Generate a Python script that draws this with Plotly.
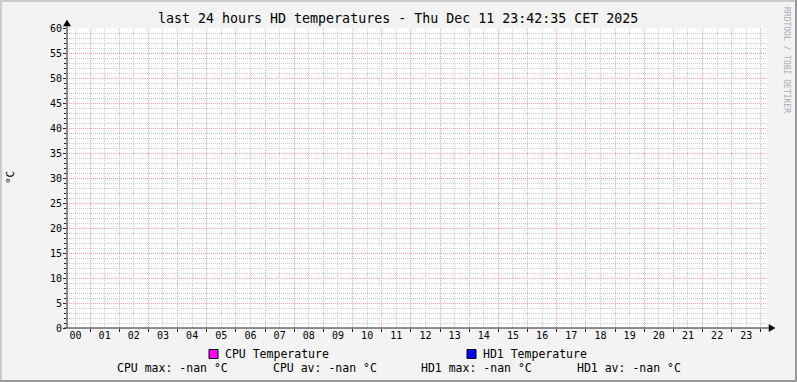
import plotly.graph_objects as go

# ---------------- data ----------------
hour_labels = ["00", "01", "02", "03", "04", "05", "06", "07", "08", "09", "10", "11",
               "12", "13", "14", "15", "16", "17", "18", "19", "20", "21", "22", "23"]
hours = [0, 1, 2, 3, 4, 5, 6, 7, 8, 9, 10, 11, 12, 13, 14, 15, 16, 17, 18, 19, 20, 21, 22, 23]
half_hours = [0.5, 1.5, 2.5, 3.5, 4.5, 5.5, 6.5, 7.5, 8.5, 9.5, 10.5, 11.5,
              12.5, 13.5, 14.5, 15.5, 16.5, 17.5, 18.5, 19.5, 20.5, 21.5, 22.5, 23.5]
# no samples were recorded in the window -> all unknown (rrdtool prints -nan)
cpu_temperature = [None, None, None, None, None, None, None, None, None, None, None, None,
                   None, None, None, None, None, None, None, None, None, None, None, None]
hd1_temperature = [None, None, None, None, None, None, None, None, None, None, None, None,
                   None, None, None, None, None, None, None, None, None, None, None, None]
series_names = ["CPU Temperature", "HD1 Temperature"]
series_short = ["CPU", "HD1"]
series_colors = ["#FF00FF", "#0000FF"]
stat_max = ["-nan", "-nan"]
stat_avg = ["-nan", "-nan"]
y_major = [0, 5, 10, 15, 20, 25, 30, 35, 40, 45, 50, 55, 60]
y_minor = list(range(0, 61))
y_minor_text = [str(v) if v in y_major else "" for v in y_minor]
x_range = [-0.29, 23.71]
y_range = [0, 60]
title_text = "last 24 hours HD temperatures - Thu Dec 11 23:42:35 CET 2025"
y_title = "°C"
watermark = "RRDTOOL / TOBI OETIKER"

# ---------------- layout geometry (pixels) ----------------
W, H = 797, 382
L, R, T, B = 67, 767, 28, 328
FONT = "DejaVu Sans Mono"
AXIS_COLOR = "#222222"
MGRID = "#FFA5A5"
GRID = "#CDCDCD"
DOT = "1px,1px"


def fx(px):
    return (px - L) / (R - L)


def fy(py):
    return (B - py) / (B - T)


def snap_x(h):
    """Snap an hour value to the centre of the pixel column it falls in (crisp dotted lines)."""
    span = x_range[1] - x_range[0]
    px = L + (h - x_range[0]) / span * (R - L)
    return x_range[0] + (int(px) + 0.5 - L) / (R - L) * span


fig = go.Figure()
fig.add_trace(go.Scatter(x=hours, y=cpu_temperature, mode="lines", name=series_names[0],
                         line=dict(color=series_colors[0], width=1), showlegend=False,
                         xaxis="x", yaxis="y"))
fig.add_trace(go.Scatter(x=hours, y=hd1_temperature, mode="lines", name=series_names[1],
                         line=dict(color=series_colors[1], width=1), showlegend=False,
                         xaxis="x2", yaxis="y2"))

shapes = []
annotations = []

# 3D frame of the image
shapes.append(dict(type="rect", xref="paper", yref="paper", x0=fx(0), x1=fx(W), y0=fy(0), y1=fy(2),
                   fillcolor="#CBCBCB", line=dict(width=0), layer="below"))
shapes.append(dict(type="rect", xref="paper", yref="paper", x0=fx(0), x1=fx(2), y0=fy(0), y1=fy(H),
                   fillcolor="#CBCBCB", line=dict(width=0), layer="below"))
shapes.append(dict(type="rect", xref="paper", yref="paper", x0=fx(0), x1=fx(W), y0=fy(H - 2), y1=fy(H),
                   fillcolor="#999999", line=dict(width=0), layer="below"))
shapes.append(dict(type="rect", xref="paper", yref="paper", x0=fx(W - 2), x1=fx(W), y0=fy(0), y1=fy(H),
                   fillcolor="#999999", line=dict(width=0), layer="below"))

# vertical dotted grid: grey at full hours, red at half hours
for h in hours:
    xs = snap_x(h)
    shapes.append(dict(type="line", xref="x", yref="y", x0=xs, x1=xs, y0=y_range[1], y1=y_range[0],
                       line=dict(color=GRID, width=1, dash=DOT), layer="below"))
for h in half_hours:
    xs = snap_x(h)
    shapes.append(dict(type="line", xref="x", yref="y", x0=xs, x1=xs, y0=y_range[1], y1=y_range[0],
                       line=dict(color=MGRID, width=1, dash=DOT), layer="below"))

# axis lines with arrows
shapes.append(dict(type="line", xref="paper", yref="paper", x0=fx(L), x1=fx(L), y0=fy(B), y1=fy(23),
                   line=dict(color=AXIS_COLOR, width=1)))
shapes.append(dict(type="line", xref="paper", yref="paper", x0=fx(L - 3), x1=fx(771), y0=fy(B), y1=fy(B),
                   line=dict(color=AXIS_COLOR, width=1)))
shapes.append(dict(type="path", xref="paper", yref="paper",
                   path=f"M {fx(L - 3.5)} {fy(26)} L {fx(L + 3.5)} {fy(26)} L {fx(L)} {fy(20)} Z",
                   fillcolor="#000000", line=dict(color="#000000", width=0.5)))
shapes.append(dict(type="path", xref="paper", yref="paper",
                   path=f"M {fx(769)} {fy(B - 3.5)} L {fx(769)} {fy(B + 3.5)} L {fx(775)} {fy(B)} Z",
                   fillcolor="#000000", line=dict(color="#000000", width=0.5)))

# title
annotations.append(dict(text=title_text, xref="paper", yref="paper", x=fx(398), y=fy(19),
                        xanchor="center", yanchor="middle", showarrow=False,
                        font=dict(family=FONT, size=13.3, color="#000000")))
# y-axis title
annotations.append(dict(text=y_title, xref="paper", yref="paper", x=fx(10), y=fy(178),
                        xanchor="center", yanchor="middle", showarrow=False, textangle=-90,
                        font=dict(family=FONT, size=11, color="#000000")))
# watermark
annotations.append(dict(text=watermark, xref="paper", yref="paper", x=fx(787), y=fy(60),
                        xanchor="center", yanchor="middle", showarrow=False, textangle=90,
                        font=dict(family=FONT, size=8, color="#ABABAB")))

# legend row
box_x = [209, 467]
for i, (name, col) in enumerate(zip(series_names, series_colors)):
    x0 = box_x[i]
    shapes.append(dict(type="rect", xref="paper", yref="paper", x0=fx(x0), x1=fx(x0 + 9),
                       y0=fy(349.5), y1=fy(358.5), fillcolor=col, line=dict(color="#000000", width=1)))
    annotations.append(dict(text=name, xref="paper", yref="paper", x=fx(x0 + 15), y=fy(354),
                            xanchor="left", yanchor="middle", showarrow=False, borderpad=0,
                            font=dict(family=FONT, size=11.5, color="#000000")))

# statistics row
stat_x = [116, 272, 420, 576]
k = 0
for i, short in enumerate(series_short):
    for lab, val in (("max", stat_max[i]), ("av", stat_avg[i])):
        annotations.append(dict(text=f"{short} {lab}: {val} °C", xref="paper", yref="paper",
                                x=fx(stat_x[k]), y=fy(368), xanchor="left", yanchor="middle",
                                showarrow=False, borderpad=0,
                                font=dict(family=FONT, size=11.5, color="#000000")))
        k += 1

tickfont = dict(family=FONT, size=10, color="#000000")
fig.update_layout(
    width=W, height=H,
    margin=dict(l=L, r=W - R, t=T, b=H - B, pad=0),
    paper_bgcolor="#F3F3F3", plot_bgcolor="#FFFFFF",
    shapes=shapes, annotations=annotations, showlegend=False,
    # full hours: labels
    xaxis=dict(range=x_range, tickmode="array", tickvals=hours, ticktext=hour_labels,
               showgrid=False, zeroline=False, showline=False, ticks="", tickfont=tickfont,
               anchor="y", fixedrange=True),
    # half hours: small ticks below the axis
    xaxis2=dict(range=x_range, tickmode="array", tickvals=half_hours,
                ticktext=["" for _ in half_hours], overlaying="x", side="bottom", anchor="y2",
                showgrid=False, zeroline=False, showline=False,
                ticks="outside", ticklen=3, tickcolor=AXIS_COLOR, fixedrange=True),
    # every degree: light grey dotted grid, labels every 5
    yaxis=dict(range=y_range, tickmode="array", tickvals=y_minor, ticktext=y_minor_text,
               showgrid=True, gridcolor=GRID, griddash=DOT, gridwidth=1,
               zeroline=False, showline=False, ticks="outside", ticklen=2, tickcolor=AXIS_COLOR,
               tickfont=tickfont, anchor="x", fixedrange=True),
    # every 5 degrees: red dotted major grid
    yaxis2=dict(range=y_range, tickmode="array", tickvals=y_major,
                ticktext=["" for _ in y_major], overlaying="y", side="left", anchor="x2",
                showgrid=True, gridcolor=MGRID, griddash=DOT, gridwidth=1,
                zeroline=False, showline=False, ticks="outside", ticklen=3, tickcolor=AXIS_COLOR,
                fixedrange=True),
)

fig.write_html("out.html")
